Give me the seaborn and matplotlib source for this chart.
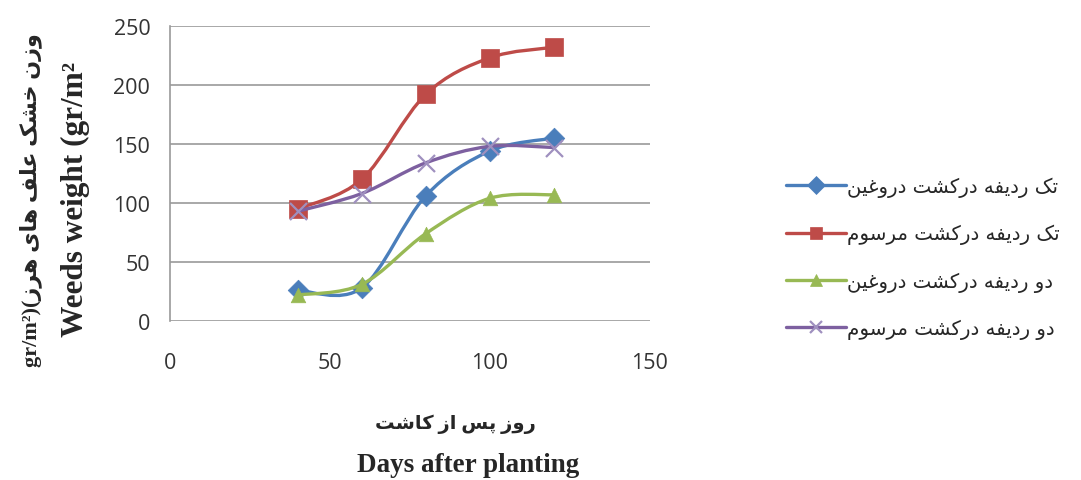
import numpy as np
import pandas as pd
import matplotlib
matplotlib.use("Agg")
import matplotlib.pyplot as plt
import seaborn as sns
from matplotlib.path import Path
from matplotlib.patches import PathPatch
from matplotlib.lines import Line2D

# -------------------------
# Data
# -------------------------
days = [40, 60, 80, 100, 120]
single_false = [26, 28, 106, 144, 155]    # blue, diamond
single_conv = [95, 120, 192, 223, 232]    # red, square
double_false = [22, 31, 74, 104, 107]     # green, triangle
double_conv = [93, 108, 134, 148, 147]    # purple, x

labels = [
    "تک ردیفه درکشت دروغین",
    "تک ردیفه درکشت مرسوم",
    "دو ردیفه درکشت دروغین",
    "دو ردیفه درکشت مرسوم",
]
colors = ["#4A7EBB", "#BE4B48", "#98B954", "#7D60A0"]
markers = ["D", "s", "^", "x"]
x_ticks = [0, 50, 100, 150]
y_ticks = [0, 50, 100, 150, 200, 250]

# -------------------------
# Minimal Persian shaping (matplotlib has no RTL / joining support)
# -------------------------
FORMS = {
    "ا": ("\uFE8D", "\uFE8E", None, None),
    "د": ("\uFEA9", "\uFEAA", None, None),
    "ر": ("\uFEAD", "\uFEAE", None, None),
    "ز": ("\uFEAF", "\uFEB0", None, None),
    "و": ("\uFEED", "\uFEEE", None, None),
    "ت": ("\uFE95", "\uFE96", "\uFE97", "\uFE98"),
    "خ": ("\uFEA5", "\uFEA6", "\uFEA7", "\uFEA8"),
    "س": ("\uFEB1", "\uFEB2", "\uFEB3", "\uFEB4"),
    "ش": ("\uFEB5", "\uFEB6", "\uFEB7", "\uFEB8"),
    "ع": ("\uFEC9", "\uFECA", "\uFECB", "\uFECC"),
    "غ": ("\uFECD", "\uFECE", "\uFECF", "\uFED0"),
    "ف": ("\uFED1", "\uFED2", "\uFED3", "\uFED4"),
    "ل": ("\uFEDD", "\uFEDE", "\uFEDF", "\uFEE0"),
    "م": ("\uFEE1", "\uFEE2", "\uFEE3", "\uFEE4"),
    "ن": ("\uFEE5", "\uFEE6", "\uFEE7", "\uFEE8"),
    "ه": ("\uFEE9", "\uFEEA", "\uFEEB", "\uFEEC"),
    "پ": ("\uFB56", "\uFB57", "\uFB58", "\uFB59"),
    "ک": ("\uFB8E", "\uFB8F", "\uFB90", "\uFB91"),
    "ی": ("\uFBFC", "\uFBFD", "\uFBFE", "\uFBFF"),
}


def shape_fa(text):
    out = []
    for i, ch in enumerate(text):
        if ch not in FORMS:
            out.append(ch)
            continue
        prev = text[i - 1] if i > 0 else ""
        nxt = text[i + 1] if i < len(text) - 1 else ""
        join_prev = prev in FORMS and FORMS[prev][2] is not None
        join_next = FORMS[ch][2] is not None and nxt in FORMS
        iso, fin, ini, med = FORMS[ch]
        if join_prev and join_next:
            out.append(med)
        elif join_prev:
            out.append(fin)
        elif join_next:
            out.append(ini)
        else:
            out.append(iso)
    return "".join(out)[::-1]


def smooth_path(xs, ys):
    # Excel-style smoothed line: Catmull-Rom segments as cubic Beziers
    p = np.column_stack([xs, ys]).astype(float)
    ext = np.vstack([p[0], p, p[-1]])
    verts = [p[0]]
    codes = [Path.MOVETO]
    for i in range(1, len(ext) - 2):
        c1 = ext[i] + (ext[i + 1] - ext[i - 1]) / 6
        c2 = ext[i + 1] - (ext[i + 2] - ext[i]) / 6
        verts += [c1, c2, ext[i + 1]]
        codes += [Path.CURVE4] * 3
    return Path(verts, codes)


# -------------------------
# Plot
# -------------------------
sns.set_theme(style="white")
plt.rcParams["font.family"] = ["Open Sans", "DejaVu Sans"]

fig = plt.figure(figsize=(10.81, 4.81), dpi=100)
ax = fig.add_axes([0.157, 0.3306, 0.444, 0.6133])

series = [single_false, single_conv, double_false, double_conv]
for k, (vals, col, mk) in enumerate(zip(series, colors, markers)):
    patch = PathPatch(smooth_path(days, vals), facecolor="none", edgecolor=col,
                      lw=2.4, zorder=3 + 2 * k, capstyle="round")
    ax.add_patch(patch)
    if mk == "x":
        sns.scatterplot(x=days, y=vals, marker="x", color="#9F90BF", s=150,
                        linewidth=1.6, ax=ax, zorder=4 + 2 * k)
    else:
        size = 150 if mk == "s" else 110
        sns.scatterplot(x=days, y=vals, marker=mk, color=col, s=size,
                        edgecolor=col, linewidth=0.5, ax=ax, zorder=4 + 2 * k)

ax.set_xlim(0, 150)
ax.set_ylim(0, 250)
ax.set_xticks(x_ticks)
ax.set_yticks(y_ticks)
ax.grid(axis="y", color="#9A9A9A", lw=1.2)
ax.grid(axis="x", visible=False)
for side in ["top", "right", "bottom"]:
    ax.spines[side].set_visible(False)
ax.spines["left"].set_color("#9A9A9A")
ax.spines["left"].set_linewidth(1.2)
ax.tick_params(axis="both", length=0, labelsize=15.5, labelcolor="#333333")
ax.tick_params(axis="x", pad=22)
ax.tick_params(axis="y", pad=14)
ax.set_xlabel("")
ax.set_ylabel("")

# Legend
handles = [Line2D([0], [0], color=c, lw=2.4, marker=m, markersize=9,
                  markeredgewidth=1.6 if m == "x" else 0.5,
                  markeredgecolor="#9F90BF" if m == "x" else c,
                  markerfacecolor=c)
           for c, m in zip(colors, markers)]
leg = fig.legend(handles, [shape_fa(t) for t in labels],
                 loc="center left", bbox_to_anchor=(0.711, 0.462),
                 frameon=False, handlelength=3.0, handletextpad=0.1,
                 labelspacing=1.38, prop={"family": ["DejaVu Sans"], "size": 14.2})

# Axis titles (Persian + English)
fig.text(0.421, 0.118, shape_fa("روز پس از کاشت"), ha="center", va="center",
         fontsize=14, fontweight="bold", family=["Liberation Serif", "DejaVu Sans"])
fig.text(0.433, 0.033, "Days after planting", ha="center", va="center",
         fontsize=19.5, fontweight="bold", family=["Liberation Serif"])
fig.text(0.028, 0.585, "gr/m²)(" + shape_fa("وزن خشک علف های هرز"),
         rotation=90, ha="center", va="center", fontsize=16, fontweight="bold",
         family=["Liberation Serif", "DejaVu Sans"])
fig.text(0.07, 0.585, "Weeds weight (gr/m²", rotation=90, ha="center",
         va="center", fontsize=22.5, fontweight="bold", family=["Liberation Serif"])

fig.savefig("out.png", dpi=100)
